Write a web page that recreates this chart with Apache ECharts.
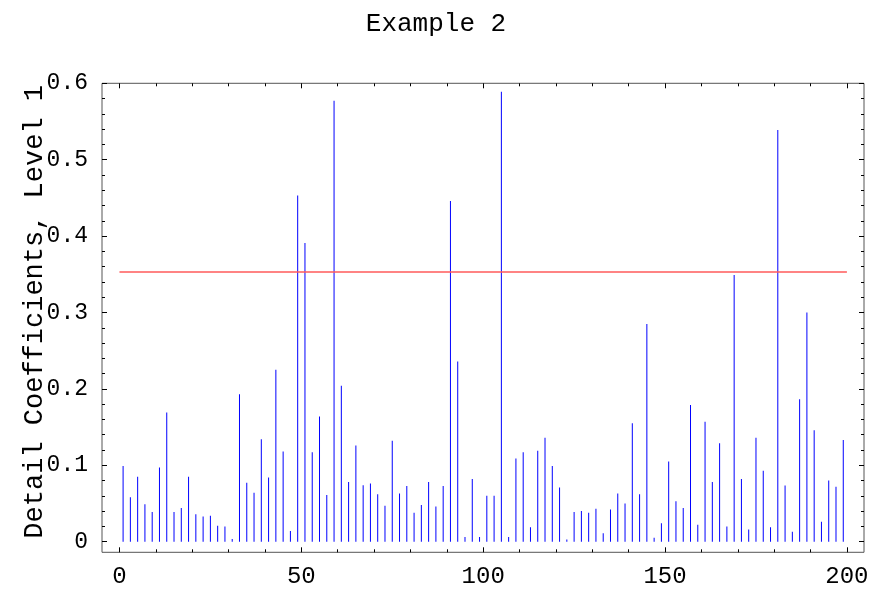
<!DOCTYPE html>
<html>
<head>
<meta charset="utf-8">
<script src="https://cdn.jsdelivr.net/npm/echarts@6/dist/echarts.min.js"></script>
<style>
html,body{margin:0;padding:0;background:#fff;}
#chart{width:872px;height:591px;}
</style>
</head>
<body>
<div id="chart"></div>
<script>
const titleText = "Example 2";
const yAxisTitle = "Detail Coefficients, Level 1";
const xTickLabels = [0, 50, 100, 150, 200];
const xMinorTicks = [10,20,30,40,60,70,80,90,110,120,130,140,160,170,180,190];
const yTickLabels = [0, 0.1, 0.2, 0.3, 0.4, 0.5, 0.6];
const yMinorTicks = [0.02,0.04,0.06,0.08,0.12,0.14,0.16,0.18,0.22,0.24,0.26,0.28,
  0.32,0.34,0.36,0.38,0.42,0.44,0.46,0.48,0.52,0.54,0.56,0.58];

const positions = [1,3,5,7,9,11,13,15,17,19,21,23,25,27,29,31,33,35,37,39,
  41,43,45,47,49,51,53,55,57,59,61,63,65,67,69,71,73,75,77,79,
  81,83,85,87,89,91,93,95,97,99,101,103,105,107,109,111,113,115,117,119,
  121,123,125,127,129,131,133,135,137,139,141,143,145,147,149,151,153,155,157,159,
  161,163,165,167,169,171,173,175,177,179,181,183,185,187,189,191,193,195,197,199];

const coefficients = [0.099,0.058,0.085,0.049,0.039,0.097,0.169,0.039,0.044,0.085,
  0.036,0.033,0.034,0.021,0.020,0.0035,0.193,0.077,0.064,0.134,
  0.084,0.225,0.118,0.014,0.453,0.391,0.117,0.164,0.061,0.577,
  0.204,0.078,0.126,0.074,0.076,0.062,0.047,0.132,0.063,0.073,
  0.038,0.048,0.078,0.046,0.073,0.446,0.236,0.006,0.082,0.006,
  0.060,0.060,0.589,0.006,0.109,0.117,0.019,0.119,0.136,0.099,
  0.071,0.003,0.039,0.040,0.038,0.043,0.011,0.042,0.063,0.050,
  0.155,0.062,0.285,0.005,0.024,0.105,0.053,0.044,0.179,0.022,
  0.157,0.078,0.129,0.020,0.349,0.082,0.016,0.136,0.093,0.019,
  0.539,0.0735,0.013,0.1865,0.300,0.146,0.026,0.080,0.072,0.133];

const thresholdX = [0, 200];
const thresholdY = [0.353, 0.353];

const FONT = "'Liberation Mono', 'Courier New', monospace";
const X_MIN = -4.8, X_MAX = 204.7, Y_MIN = -0.0139, Y_MAX = 0.6;

const chart = echarts.init(document.getElementById('chart'), null, {renderer: 'canvas'});

const barData = positions.map((p, i) => [p, coefficients[i]]);
const lineData = thresholdX.map((x, i) => [x, thresholdY[i]]);

function tickAxis(kind, position, values, len, labels) {
  const isX = kind === 'x';
  const ax = {
    type: 'value', gridIndex: 0, position: position, offset: 0,
    min: isX ? X_MIN : Y_MIN, max: isX ? X_MAX : Y_MAX,
    axisLine: {show: false, onZero: false},
    axisTick: {show: true, inside: true, length: len, customValues: values,
               lineStyle: {color: '#000', width: 1}},
    minorTick: {show: false},
    splitLine: {show: false},
    axisLabel: {show: false}
  };
  if (labels) {
    ax.axisLabel = {
      show: true, customValues: values, color: '#000', fontFamily: FONT,
      fontSize: isX ? 24 : 23,
      margin: isX ? 12 : 14,
      formatter: v => String(Math.round(v * 10) / 10)
    };
  }
  return ax;
}

const xAxes = [
  tickAxis('x', 'bottom', xTickLabels, 5, true),
  tickAxis('x', 'bottom', xMinorTicks, 3, false),
  tickAxis('x', 'top', xTickLabels, 5, false),
  tickAxis('x', 'top', xMinorTicks, 3, false)
];
const yAxes = [
  tickAxis('y', 'left', yTickLabels, 5, true),
  tickAxis('y', 'left', yMinorTicks, 3, false),
  tickAxis('y', 'right', yTickLabels, 5, false),
  tickAxis('y', 'right', yMinorTicks, 3, false)
];
Object.assign(yAxes[0], {
  name: yAxisTitle,
  nameLocation: 'middle',
  nameRotate: 90,
  nameGap: 54,
  nameMoveOverlap: false,
  nameTextStyle: {fontFamily: FONT, fontSize: 27, color: '#000', padding: [0, 0, 0, 12]}
});

chart.setOption({
  animation: false,
  backgroundColor: '#fff',
  title: {
    text: titleText,
    left: 'center',
    top: 6,
    textStyle: {fontFamily: FONT, fontSize: 26, fontWeight: 'normal', color: '#000'}
  },
  grid: [
    {left: 102, right: 8, top: 83.3, bottom: 38.7, show: true,
     borderColor: '#555', borderWidth: 1, backgroundColor: 'transparent'}
  ],
  xAxis: xAxes,
  yAxis: yAxes,
  series: [
    {
      type: 'bar', xAxisIndex: 0, yAxisIndex: 0,
      data: barData,
      barWidth: 1,
      itemStyle: {color: '#0000ff'},
      silent: true
    },
    {
      type: 'line', xAxisIndex: 0, yAxisIndex: 0,
      data: lineData,
      symbol: 'none',
      lineStyle: {color: '#ff5a5a', width: 1.3},
      silent: true
    }
  ]
});
</script>
</body>
</html>
